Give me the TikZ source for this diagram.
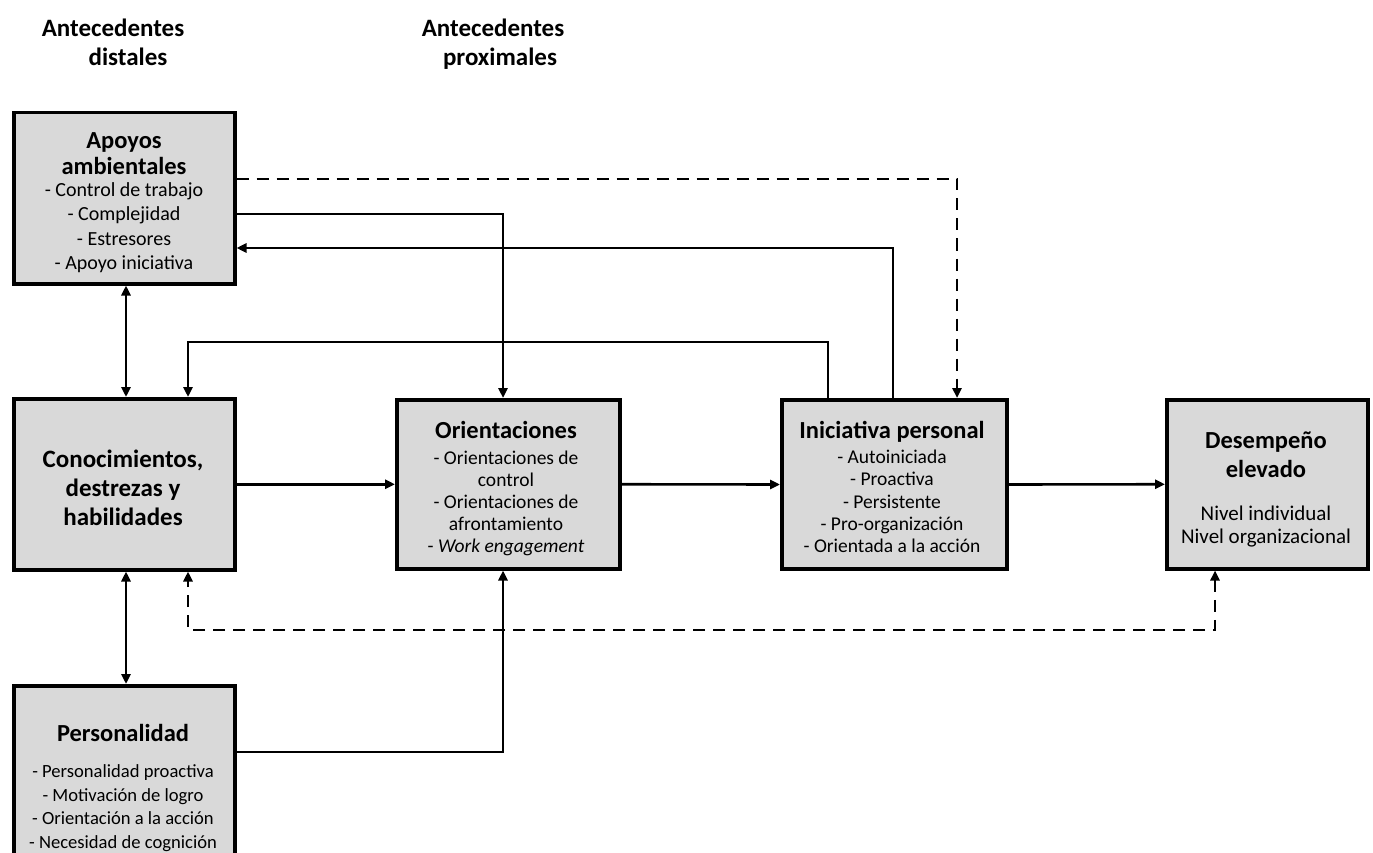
\documentclass[tikz,border=0pt]{standalone}
\usepackage{fontspec}
\setmainfont{Carlito}
\usetikzlibrary{arrows.meta}
\begin{document}
\begin{tikzpicture}[x=1pt,y=-1pt,
  box/.style={draw, line width=3.5pt, fill=boxgray, anchor=north west, inner sep=0pt},
  tip/.tip={Triangle[length=10pt,width=9pt]},
  conn/.style={line width=2.6pt, -tip},
  dconn/.style={conn, dash pattern=on 12pt off 8pt},
  txt/.style={inner sep=0pt, text height=0.7em, text depth=0.22em, yshift=-5.5pt},
  ttl/.style={txt, font=\fontsize{24.5}{28}\selectfont\bfseries},
  itm/.style={txt, font=\fontsize{19.5}{22}\selectfont},
  hdr/.style={txt, font=\fontsize{25}{30}\selectfont\bfseries}]
\definecolor{boxgray}{HTML}{D9D9D9}
\useasboundingbox (0,0) rectangle (1373,853);

% column headings
\node[hdr] (h1a) at (113,29) {Antecedentes};
\node[hdr] (h1b) at (128,58) {distales};
\node[hdr] (h2a) at (493,29) {Antecedentes};
\node[hdr] (h2b) at (500,58) {proximales};

% boxes
\node[box, minimum width=221pt, minimum height=171pt] (apo) at (12,111) {};
\node[box, minimum width=221pt, minimum height=171pt] (con) at (12,397) {};
\node[box, minimum width=221pt, minimum height=200pt] (per) at (12,684) {};
\node[box, minimum width=223pt, minimum height=169pt] (ori) at (395,398) {};
\node[box, minimum width=225pt, minimum height=169pt, line width=4pt] (ini) at (780,398) {};
\node[box, minimum width=201pt, minimum height=169pt] (des) at (1165,398) {};

% box texts
\node[ttl] (t1) at (124,141) {Apoyos};
\node[ttl] (t2) at (124,167) {ambientales};
\begin{scope}[itm/.append style={font=\fontsize{20}{22}\selectfont}]
\node[itm] (a1) at (124,189) {- Control de trabajo};
\node[itm] (a2) at (124,213) {- Complejidad};
\node[itm] (a3) at (124,238) {- Estresores};
\node[itm] (a4) at (124,262) {- Apoyo iniciativa};
\end{scope}

\node[font=\fontsize{25}{29}\selectfont\bfseries, align=center, inner sep=0pt, yshift=-3pt] (tc) at (123,485) {Conocimientos,\\destrezas y\\habilidades};

\node[ttl] (tp) at (123,734) {Personalidad};
\begin{scope}[itm/.append style={font=\fontsize{18.6}{22}\selectfont}]
\node[itm] (p1) at (123,770) {- Personalidad proactiva};
\node[itm] (p2) at (123,793.5) {- Motivación de logro};
\node[itm] (p3) at (123,817) {- Orientación a la acción};
\node[itm] (p4) at (123,840.5) {- Necesidad de cognición};
\end{scope}

\node[ttl] (to) at (506,431) {Orientaciones};
\node[itm] (o1) at (506,457) {- Orientaciones de};
\node[itm] (o2) at (506,479) {control};
\node[itm] (o3) at (506,501) {- Orientaciones de};
\node[itm] (o4) at (506,523) {afrontamiento};
\node[itm] (o5) at (506,545) {- \textit{Work engagement}};

\node[ttl] (ti) at (892,431) {Iniciativa personal};
\node[itm] (i1) at (892,456) {- Autoiniciada};
\node[itm] (i2) at (892,478) {- Proactiva};
\node[itm] (i3) at (892,501) {- Persistente};
\node[itm] (i4) at (892,523) {- Pro-organización};
\node[itm] (i5) at (892,545) {- Orientada a la acción};

\node[ttl] (td1) at (1266,441) {Desempeño};
\node[ttl] (td2) at (1266,470) {elevado};
\begin{scope}[itm/.append style={font=\fontsize{21}{24}\selectfont}]
\node[itm] (d1) at (1266,513) {Nivel individual};
\node[itm] (d2) at (1266,536) {Nivel organizacional};
\end{scope}

% routing points
\coordinate (c1) at (957,179);
\coordinate (c2) at (503,214);
\coordinate (c3) at (893,248);
\coordinate (c4) at (828,342);
\coordinate (c5) at (188,342);
\coordinate (c6) at (126,0);
\coordinate (c7) at (188,630);
\coordinate (c8) at (1215,630);
\coordinate (c9) at (503,752);

% connectors
\draw[dconn] (c1 -| apo.east) -- (c1) -- (c1 |- ini.north);
\draw[conn] (c2 -| apo.east) -- (c2) -- (c2 |- ori.north);
\draw[conn] (c3 |- ini.north) -- (c3) -- (c3 -| apo.east);
\draw[conn] (c4 |- ini.north) -- (c4) -- (c5) -- (c5 |- con.north);
\draw[conn, tip-tip] (c6 |- apo.south) -- (c6 |- con.north);
\draw[conn, tip-tip] (c6 |- con.south) -- (c6 |- per.north);
\draw[dconn, tip-tip] (c8 |- des.south) -- (c8) -- (c7) -- (c7 |- con.south);
\draw[conn] (c9 -| per.east) -- (c9) -- (c9 |- ori.south);
\draw[conn] (con.east) -- (ori.west);
\draw[conn] (ori.east) -- (ini.west);
\draw[conn] (ini.east) -- (des.west);
\end{tikzpicture}
\end{document}
